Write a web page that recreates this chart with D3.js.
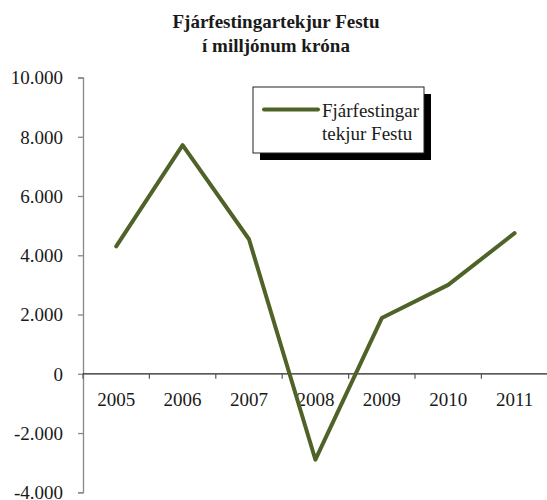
<!DOCTYPE html>
<html>
<head>
<meta charset="utf-8">
<script src="https://cdn.jsdelivr.net/npm/d3@7"></script>
<style>
  body { margin: 0; background: #fff; }
  svg { display: block; }
</style>
</head>
<body>
<svg id="chart" width="547" height="500"></svg>
<script>
const years = ["2005", "2006", "2007", "2008", "2009", "2010", "2011"];
const values = [4300, 7720, 4540, -2900, 1880, 3000, 4745];
const yTicks = [-4000, -2000, 0, 2000, 4000, 6000, 8000, 10000];
const titleLines = ["Fjárfestingartekjur Festu", "í milljónum króna"];
const seriesName = ["Fjárfestingar", "tekjur Festu"];

const FONT = "'Liberation Serif', 'DejaVu Serif', serif";

const svg = d3.select("#chart");
const W = 547, H = 500;
const left = 83, bandW = 66.4;

const x = d3.scaleBand().domain(years).range([left, left + bandW * years.length]).padding(0);
const y = d3.scaleLinear().domain([-4000, 10000]).range([492.3, 77.5]);

const isLocale = d3.formatLocale({ decimal: ",", thousands: ".", grouping: [3], currency: ["", " kr"], minus: "-" });
const fmt = isLocale.format(",");

// Title
svg.append("g").selectAll("text").data(titleLines).join("text")
  .attr("x", 276).attr("y", (d, i) => 28 + i * 24)
  .attr("text-anchor", "middle")
  .style("font-size", "19px").style("font-weight", "bold")
  .text(d => d);

// Y axis
const yAxis = svg.append("g").attr("transform", `translate(${left},0)`)
  .call(d3.axisLeft(y).tickValues(yTicks).tickSize(5).tickPadding(15).tickFormat(fmt));
yAxis.select(".domain").attr("stroke", "#888").attr("stroke-width", 1.3);
yAxis.selectAll(".tick line").attr("stroke", "#888").attr("stroke-width", 1.3);
yAxis.selectAll(".tick text")
  .style("font-size", "19px")
  .attr("fill", "#1a1a1a").attr("dy", "0.33em");

// X axis at zero
const y0 = y(0);
const xg = svg.append("g");
xg.append("line").attr("x1", left).attr("x2", W).attr("y1", y0).attr("y2", y0)
  .attr("stroke", "#222").attr("stroke-width", 1.2);
const boundaries = years.map(d => x(d) + x.bandwidth()).concat([left]);
xg.selectAll("line.tk").data(boundaries).join("line").attr("class", "tk")
  .attr("x1", d => d).attr("x2", d => d).attr("y1", y0).attr("y2", y0 + 5)
  .attr("stroke", "#555").attr("stroke-width", 1.2);
xg.selectAll("text").data(years).join("text")
  .attr("x", d => x(d) + x.bandwidth() / 2).attr("y", 406)
  .attr("text-anchor", "middle").style("font-size", "19px")
  .text(d => d);

// Line
const data = years.map((d, i) => ({ year: d, value: values[i] }));
const line = d3.line().x(d => x(d.year) + x.bandwidth() / 2).y(d => y(d.value));
svg.append("path").datum(data)
  .attr("d", line).attr("fill", "none")
  .attr("stroke", "#4F6228").attr("stroke-width", 4)
  .attr("stroke-linejoin", "round").attr("stroke-linecap", "round");

// Legend
const lg = svg.append("g");
lg.append("rect").attr("x", 260).attr("y", 94).attr("width", 171).attr("height", 66).attr("fill", "#000");
lg.append("rect").attr("x", 253).attr("y", 87).attr("width", 171).attr("height", 66)
  .attr("fill", "#fff").attr("stroke", "#222").attr("stroke-width", 1);
lg.append("line").attr("x1", 264).attr("x2", 318).attr("y1", 109.5).attr("y2", 109.5)
  .attr("stroke", "#4F6228").attr("stroke-width", 4).attr("stroke-linecap", "round");
lg.selectAll("text").data(seriesName).join("text")
  .attr("x", 322).attr("y", (d, i) => 116.5 + i * 23)
  .style("font-size", "19px")
  .text(d => d);

svg.selectAll("text").style("font-family", FONT).style("fill", "#1a1a1a");
</script>
</body>
</html>
